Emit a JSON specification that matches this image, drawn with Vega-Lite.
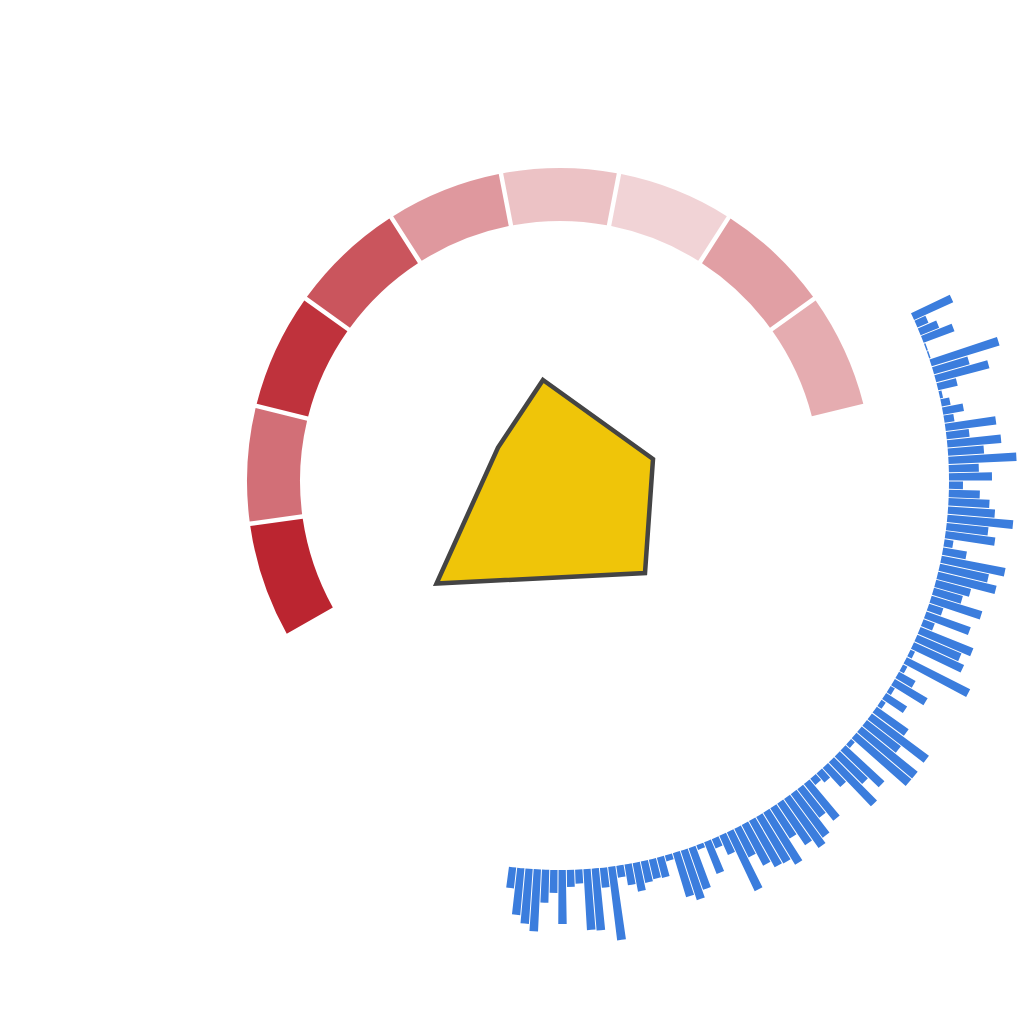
{
  "$schema": "https://vega.github.io/schema/vega-lite/v6.json",
  "width": 900,
  "height": 900,
  "autosize": "none",
  "padding": {"left": 110, "top": 31, "right": 14, "bottom": 93},
  "background": "white",
  "datasets": {
    "ring": [
      {"seg": 1, "level": 1.0},
      {"seg": 2, "level": 0.66},
      {"seg": 3, "level": 0.94},
      {"seg": 4, "level": 0.78},
      {"seg": 5, "level": 0.47},
      {"seg": 6, "level": 0.28},
      {"seg": 7, "level": 0.2},
      {"seg": 8, "level": 0.44},
      {"seg": 9, "level": 0.38}
    ],
    "bars": [
      {"i": 0, "len": 43}, {"i": 1, "len": 12}, {"i": 2, "len": 20}, {"i": 3, "len": 33},
      {"i": 4, "len": 1.5}, {"i": 5, "len": 1.5}, {"i": 6, "len": 71}, {"i": 7, "len": 37},
      {"i": 8, "len": 55}, {"i": 9, "len": 20}, {"i": 10, "len": 3}, {"i": 11, "len": 9},
      {"i": 12, "len": 21}, {"i": 13, "len": 10}, {"i": 14, "len": 51}, {"i": 15, "len": 23},
      {"i": 16, "len": 54}, {"i": 17, "len": 36}, {"i": 18, "len": 68}, {"i": 19, "len": 30},
      {"i": 20, "len": 43}, {"i": 21, "len": 14}, {"i": 22, "len": 31}, {"i": 23, "len": 41},
      {"i": 24, "len": 47}, {"i": 25, "len": 66}, {"i": 26, "len": 42}, {"i": 27, "len": 50},
      {"i": 28, "len": 9}, {"i": 29, "len": 24}, {"i": 30, "len": 65}, {"i": 31, "len": 50},
      {"i": 32, "len": 60}, {"i": 33, "len": 36}, {"i": 34, "len": 30}, {"i": 35, "len": 53},
      {"i": 36, "len": 15}, {"i": 37, "len": 47}, {"i": 38, "len": 12}, {"i": 39, "len": 57},
      {"i": 40, "len": 48}, {"i": 41, "len": 55}, {"i": 42, "len": 5}, {"i": 43, "len": 71},
      {"i": 44, "len": 5}, {"i": 45, "len": 19}, {"i": 46, "len": 38}, {"i": 47, "len": 5},
      {"i": 48, "len": 25}, {"i": 49, "len": 5}, {"i": 50, "len": 39}, {"i": 51, "len": 71},
      {"i": 52, "len": 43}, {"i": 53, "len": 72}, {"i": 54, "len": 72}, {"i": 55, "len": 5},
      {"i": 56, "len": 53}, {"i": 57, "len": 39}, {"i": 58, "len": 61}, {"i": 59, "len": 26},
      {"i": 60, "len": 12}, {"i": 61, "len": 8}, {"i": 62, "len": 47}, {"i": 63, "len": 36},
      {"i": 64, "len": 54}, {"i": 65, "len": 60}, {"i": 66, "len": 50}, {"i": 67, "len": 36},
      {"i": 68, "len": 61}, {"i": 69, "len": 54}, {"i": 70, "len": 53}, {"i": 71, "len": 46},
      {"i": 72, "len": 32}, {"i": 73, "len": 65}, {"i": 74, "len": 21}, {"i": 75, "len": 10},
      {"i": 76, "len": 34}, {"i": 77, "len": 5}, {"i": 78, "len": 44}, {"i": 79, "len": 52},
      {"i": 80, "len": 46}, {"i": 81, "len": 6}, {"i": 82, "len": 21}, {"i": 83, "len": 20},
      {"i": 84, "len": 22}, {"i": 85, "len": 29}, {"i": 86, "len": 21}, {"i": 87, "len": 12},
      {"i": 88, "len": 74}, {"i": 89, "len": 20}, {"i": 90, "len": 62}, {"i": 91, "len": 61},
      {"i": 92, "len": 14}, {"i": 93, "len": 17}, {"i": 94, "len": 54}, {"i": 95, "len": 23},
      {"i": 96, "len": 33}, {"i": 97, "len": 62}, {"i": 98, "len": 55}, {"i": 99, "len": 47},
      {"i": 100, "len": 21}
    ],
    "shape": [
      {"k": 1, "px": -17, "py": 101},
      {"k": 2, "px": 93, "py": 22},
      {"k": 3, "px": 85, "py": -92},
      {"k": 4, "px": -123.5, "py": -102.5},
      {"k": 5, "px": -62, "py": 33.5}
    ]
  },
  "layer": [
    {
      "data": {"name": "ring"},
      "transform": [
        {"aggregate": [{"op": "count", "as": "n"}], "groupby": ["seg", "level"]},
        {"stack": "n", "groupby": [], "sort": [{"field": "seg", "order": "ascending"}], "as": ["t0", "t1"]}
      ],
      "mark": {"type": "arc", "radius": 313, "radius2": 260, "padAngle": 0.011, "color": "#bb2530"},
      "encoding": {
        "theta": {"field": "t0", "type": "quantitative",
                  "scale": {"domain": [0, 9], "range": [-2.0874, 1.3282]}},
        "theta2": {"field": "t1"},
        "opacity": {"field": "level", "type": "quantitative",
                    "scale": {"domain": [0, 1], "range": [0, 1]}, "legend": null}
      }
    },
    {
      "data": {"name": "bars"},
      "transform": [
        {"aggregate": [{"op": "count", "as": "n"}], "groupby": ["i", "len"]},
        {"stack": "n", "groupby": [], "sort": [{"field": "i", "order": "ascending"}], "as": ["t0", "t1"]}
      ],
      "mark": {"type": "arc", "radius2": 389, "padAngle": 0.0017, "color": "#3b7ddd"},
      "encoding": {
        "theta": {"field": "t0", "type": "quantitative",
                  "scale": {"domain": [0, 101], "range": [1.1238, 3.2744]}},
        "theta2": {"field": "t1"},
        "radius": {"field": "len", "type": "quantitative",
                   "scale": {"type": "linear", "domain": [0, 80], "range": [389, 469], "zero": false}}
      }
    },
    {
      "data": {"name": "shape"},
      "mark": {"type": "line", "interpolate": "linear-closed", "fill": "#efc509",
               "stroke": "#444444", "strokeWidth": 4.5, "strokeJoin": "miter"},
      "encoding": {
        "x": {"field": "px", "type": "quantitative", "axis": null,
              "scale": {"domain": [-450, 450], "nice": false, "zero": false}},
        "y": {"field": "py", "type": "quantitative", "axis": null,
              "scale": {"domain": [-450, 450], "nice": false, "zero": false}},
        "order": {"field": "k", "type": "quantitative"}
      }
    }
  ],
  "resolve": {"scale": {"theta": "independent", "opacity": "independent", "radius": "independent"}},
  "config": {"view": {"stroke": null}}
}
